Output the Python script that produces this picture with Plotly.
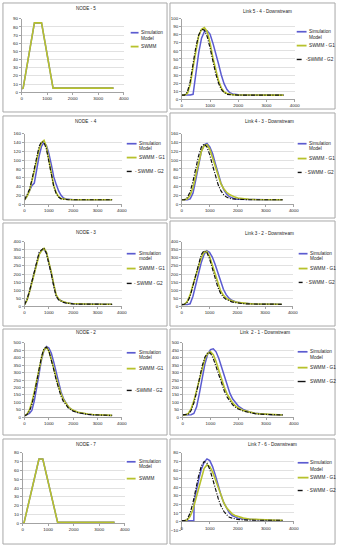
import plotly.graph_objects as go

W, H = 342, 550

# ---------------- data ----------------
T = [0, 100, 200, 300, 400, 500, 600, 700, 800, 900, 1000, 1100, 1200, 1300, 1400, 1500,
     1600, 1700, 1800, 1900, 2000, 2200, 2400, 2600, 2800, 3000, 3200, 3400, 3600]

node5_t = [0, 60, 500, 780, 1230, 3600]
node5_sim = [4, 5, 85, 85, 5, 5]
node5_swmm = [4, 5, 85, 85, 5, 5]

link54_sim = [5, 5, 5, 5, 6, 32, 58, 76, 84, 85, 81, 70, 58, 44, 30, 19, 12, 8, 6.5, 5.8, 5.5, 5.2, 5, 5, 5, 5, 5, 5, 5]
link54_g1 = [5, 5, 7, 18, 40, 62, 79, 87, 89, 84, 70, 52, 36, 23, 14, 9, 7, 6, 5.5, 5.3, 5.2, 5, 5, 5, 5, 5, 5, 5, 5]
link54_g2 = [5, 5, 9, 22, 44, 65, 80, 87, 86, 78, 64, 47, 32, 20, 12, 8, 6, 5.5, 5.2, 5, 5, 5, 5, 5, 5, 5, 5, 5, 5]

node4_sim = [10, 18, 30, 42, 48, 80, 110, 132, 140, 133, 115, 90, 62, 45, 30, 20, 14, 12, 11, 10.5, 10, 10, 10, 10, 10, 10, 10, 10, 10]
node4_g1 = [10, 18, 30, 50, 75, 100, 125, 140, 145, 130, 102, 70, 42, 26, 17, 13, 11.5, 11, 10.5, 10, 10, 10, 10, 10, 10, 10, 10, 10, 10]
node4_g2 = [10, 20, 33, 55, 82, 110, 132, 142, 140, 125, 97, 65, 40, 24, 16, 12, 11, 10.5, 10, 10, 10, 10, 10, 10, 10, 10, 10, 10, 10]

link43_sim = [10, 10, 10, 12, 25, 55, 90, 120, 135, 138, 130, 115, 92, 68, 48, 33, 23, 17, 14, 12, 11, 10.5, 10, 10, 10, 10, 10, 10, 10]
link43_g1 = [10, 10, 12, 20, 38, 65, 95, 120, 133, 135, 125, 105, 82, 62, 46, 35, 27, 22, 18, 16, 14, 12, 11, 10.5, 10, 10, 10, 10, 10]
link43_g2 = [10, 10, 15, 28, 52, 82, 110, 130, 137, 130, 112, 88, 64, 44, 30, 21, 16, 13, 12, 11.5, 11, 10.5, 10, 10, 10, 10, 10, 10, 10]

node3_sim = [10, 40, 90, 150, 210, 270, 325, 345, 355, 330, 275, 205, 130, 65, 42, 32, 26, 21, 18, 16, 15, 14, 13, 12.5, 12, 12, 12, 12, 12]
node3_g1 = [10, 38, 88, 148, 208, 268, 320, 345, 360, 335, 280, 210, 135, 70, 45, 33, 27, 22, 19, 17, 16, 14, 13, 12.5, 12, 12, 12, 12, 12]
node3_g2 = [10, 42, 92, 152, 212, 272, 335, 350, 362, 328, 270, 200, 125, 62, 40, 30, 24, 20, 17, 15, 14, 13, 12.5, 12, 12, 12, 12, 12, 12]

link32_sim = [10, 10, 10, 15, 60, 130, 200, 270, 320, 345, 335, 305, 260, 205, 150, 105, 72, 50, 37, 29, 24, 18, 15, 13, 12, 12, 12, 12, 12]
link32_g1 = [10, 12, 30, 70, 130, 190, 250, 300, 335, 340, 310, 255, 190, 135, 95, 68, 50, 40, 33, 28, 24, 19, 16, 14, 13, 12, 12, 12, 12]
link32_g2 = [10, 12, 25, 60, 125, 195, 265, 320, 345, 335, 295, 235, 170, 118, 80, 56, 42, 33, 27, 23, 20, 16, 14, 13, 12, 12, 12, 12, 12]

node2_sim = [10, 15, 25, 45, 110, 200, 300, 390, 450, 475, 465, 430, 370, 300, 230, 170, 125, 92, 70, 55, 45, 32, 25, 20, 17, 15, 13, 12, 12]
node2_g1 = [10, 20, 50, 100, 170, 250, 330, 400, 455, 470, 445, 395, 330, 265, 205, 155, 118, 90, 70, 56, 46, 33, 26, 21, 18, 16, 14, 13, 12]
node2_g2 = [10, 18, 40, 85, 155, 240, 330, 410, 462, 472, 445, 390, 320, 250, 190, 140, 105, 80, 62, 50, 41, 30, 23, 19, 16, 14, 13, 12, 12]

link21_sim = [15, 15, 15, 17, 25, 70, 160, 270, 360, 425, 455, 460, 440, 395, 335, 270, 210, 160, 122, 95, 75, 50, 35, 27, 22, 19, 17, 16, 15]
link21_g1 = [15, 15, 25, 55, 110, 180, 260, 335, 395, 430, 440, 420, 375, 315, 255, 200, 155, 120, 95, 76, 62, 44, 33, 26, 22, 19, 17, 16, 15]
link21_g2 = [15, 15, 20, 45, 95, 170, 260, 345, 405, 435, 430, 395, 340, 280, 222, 175, 135, 105, 83, 67, 55, 40, 30, 24, 20, 18, 16, 15, 15]

node7_t = [0, 60, 640, 790, 1370, 3600]
node7_sim = [0, 1, 73, 73, 1, 1]
node7_swmm = [0, 1, 73, 73, 1, 1]

link76_sim_t = [0, 100, 200, 300, 400, 430, 440, 500, 600, 700, 800, 900, 1000, 1100, 1200, 1300, 1400,
                1500, 1600, 1700, 1800, 1900, 2000, 2200, 2400, 2600, 2800, 3000, 3200, 3400, 3600]
link76_sim = [1, 1, 1, 1, 1, 1, 20, 33, 48, 61, 69, 73, 71, 64, 54, 42, 31, 22, 15, 10, 7, 5, 4, 3, 2.5, 2, 1.8, 1.5, 1.3, 1.2, 1]
link76_g1 = [1, 1, 2, 6, 14, 26, 40, 53, 62, 66, 64, 58, 49, 39, 30, 22, 16, 12, 9, 7, 6, 4, 3, 2.5, 2, 2, 1.8, 1.5, 1.5]
link76_g2 = [1, 1, 3, 10, 22, 38, 53, 65, 70, 68, 61, 50, 38, 27, 18, 12, 8, 5, 4, 3, 2.5, 2, 1.5, 1.5, 1.5, 1.5, 1.5, 1.5, 1.5]

titles = ["NODE - 5", "Link 5 - 4 - Downstream", "NODE  - 4", "Link 4 - 3 - Downstream",
          "NODE - 3", "Link 3 - 2 - Downstream", "NODE - 2", "Link  2 - 1 - Downstream",
          "NODE - 7", "Link 7 - 6 - Downstream"]
y_ranges = [[0, 90], [0, 100], [0, 160], [0, 160], [0, 400], [0, 400], [0, 500], [0, 500], [0, 80], [-10, 80]]
y_steps = [10, 10, 20, 20, 50, 50, 50, 50, 10, 10]
x_range = [0, 4000]
x_step = 1000

series = [
    [(node5_t, node5_sim, "sim"), (node5_t, node5_swmm, "g1")],
    [(T, link54_sim, "sim"), (T, link54_g1, "g1"), (T, link54_g2, "g2")],
    [(T, node4_sim, "sim"), (T, node4_g1, "g1"), (T, node4_g2, "g2")],
    [(T, link43_sim, "sim"), (T, link43_g1, "g1"), (T, link43_g2, "g2")],
    [(T, node3_sim, "sim"), (T, node3_g1, "g1"), (T, node3_g2, "g2")],
    [(T, link32_sim, "sim"), (T, link32_g1, "g1"), (T, link32_g2, "g2")],
    [(T, node2_sim, "sim"), (T, node2_g1, "g1"), (T, node2_g2, "g2")],
    [(T, link21_sim, "sim"), (T, link21_g1, "g1"), (T, link21_g2, "g2")],
    [(node7_t, node7_sim, "sim"), (node7_t, node7_swmm, "g1")],
    [(link76_sim_t, link76_sim, "sim"), (T, link76_g1, "g1"), (T, link76_g2, "g2")],
]

legend_texts = [
    [("Simulation", "Model", "sim"), ("SWMM", None, "g1")],
    [("Simulation", "Model", "sim"), ("SWMM - G1", None, "g1"), ("-SWMM - G2", None, "g2")],
    [("Simulation", "Model", "sim"), ("SWMM - G1", None, "g1"), ("- SWMM - G2", None, "g2")],
    [("Simulation", "Model", "sim"), ("SWMM - G1", None, "g1"), ("- SWMM - G2", None, "g2")],
    [("Simulation", "model", "sim"), ("SWMM - G1", None, "g1"), ("- SWMM - G2", None, "g2")],
    [("Simulation", "Model", "sim"), ("SWMM - G1", None, "g1"), ("- SWMM - G2", None, "g2")],
    [("Simulation", "Model", "sim"), ("SWMM -G1", None, "g1"), ("-SWMM - G2", None, "g2")],
    [("Simulation", "Model", "sim"), ("SWMM - G1", None, "g1"), ("SWMM - G2", None, "g2")],
    [("Simulation", "Model", "sim"), ("SWMM", None, "g1")],
    [("Simulation", "Model", "sim"), ("SWMM - G1", None, "g1"), ("- SWMM - G2", None, "g2")],
]

# ---------------- layout (pixels) ----------------
plot_boxes = [  # x0, x1, ytop, ybottom
    (21, 125, 17, 91), (184, 299, 17, 98),
    (24, 123, 133, 204), (184, 298, 133, 204),
    (24, 123, 242, 307), (184, 297, 242, 307),
    (24, 123, 344, 419), (185, 298, 344, 419),
    (22, 126, 455, 526), (184, 298, 455, 533),
]
title_pos = [(87, 7), (271, 10), (87, 121), (273, 121), (87, 233), (273, 234),
             (87, 334), (269, 334), (87, 447), (276, 447)]
panel_frames = [
    (2, 169, 1, 111), (172, 340, 1, 108),
    (2, 169, 115, 220), (172, 340, 112, 218),
    (2, 169, 223, 327), (172, 340, 221, 327),
    (2, 169, 330, 437), (172, 340, 330, 437),
    (2, 169, 441, 547), (172, 340, 441, 547),
]
# sample x0, x1, text x, g2 sample x1, g2 text x, rows (sample y, [text line ys])
legend_geo = [
    (132, 140, 141, None, None, [(31, [31, 37]), (45, [45])]),
    (301, 311, 312, 306, 309, [(30, [30, 35.5]), (44, [44]), (58, [58])]),
    (128, 138, 139, 133, 135, [(143, [143, 148]), (157, [157]), (171, [171])]),
    (302, 311, 312, 306, 308, [(143, [143, 148]), (158, [158]), (172, [172])]),
    (128, 137, 139, 133, 134, [(254, [254, 259]), (269, [269]), (284, [284])]),
    (303, 312, 313, 307, 309, [(254, [254, 259]), (269, [269]), (283, [283])]),
    (128, 137, 139, 133, 135, [(354, [354, 359]), (370, [370]), (392, [392])]),
    (302, 312, 313, 310, 313, [(353, [353, 359]), (369, [369]), (383, [383])]),
    (128, 137, 139, None, None, [(464, [464, 469]), (481, [481])]),
    (302, 313, 314, 307, 310, [(465, [465, 472]), (480, [480]), (493, [493])]),
]

styles = {
    "sim": dict(color="#5b5bd0", width=1.5, dash="solid"),
    "g1": dict(color="#b7c22c", width=1.6, dash="solid"),
    "g2": dict(color="#111111", width=1.2, dash="4px,1.5px,1px,1.5px"),
}
names = {"sim": "Simulation Model", "g1": "SWMM - G1", "g2": "SWMM - G2"}

FONT = "Liberation Sans"
AXC = "#8c8c8c"
TICK_SIZE = 4.4
TITLE_SIZE = 4.6
LEG_SIZE = 4.7


def fx(px):
    return px / W


def fy(py):
    return 1 - py / H


fig = go.Figure()
layout = dict(width=W, height=H, margin=dict(l=0, r=0, t=0, b=0),
              paper_bgcolor="white", plot_bgcolor="white", showlegend=False,
              font=dict(family=FONT, size=5, color="#222"))
shapes = []
annotations = []

for i in range(10):
    n = i + 1
    xs = "" if n == 1 else str(n)
    x0, x1, yt, yb = plot_boxes[i]
    for (tx, vy, kind) in series[i]:
        st = styles[kind]
        fig.add_trace(go.Scatter(x=tx, y=vy, mode="lines", name=names[kind],
                                 line=dict(color=st["color"], width=st["width"], dash=st["dash"]),
                                 xaxis="x" + xs, yaxis="y" + xs, hoverinfo="skip"))
    yr = y_ranges[i]
    ydom = [fy(yb), fy(yt)]
    xa = dict(domain=[fx(x0), fx(x1)], range=x_range, dtick=x_step, tick0=0,
              showgrid=False, zeroline=False, showline=True, linecolor=AXC, linewidth=0.8,
              ticks="outside", ticklen=2, tickwidth=0.8, tickcolor=AXC,
              tickfont=dict(size=TICK_SIZE, family=FONT, color="#222"), fixedrange=True)
    if yr[0] < 0:
        frac = (0 - yr[0]) / (yr[1] - yr[0])
        xa.update(anchor="free", position=ydom[0] + frac * (ydom[1] - ydom[0]))
    else:
        xa.update(anchor="y" + xs)
    ya = dict(domain=ydom, range=yr, dtick=y_steps[i], tick0=0, anchor="x" + xs,
              showgrid=True, gridcolor="#d4d4d4", gridwidth=0.7, zeroline=False,
              showline=True, linecolor=AXC, linewidth=0.8,
              ticks="outside", ticklen=2, tickwidth=0.8, tickcolor=AXC,
              tickfont=dict(size=TICK_SIZE, family=FONT, color="#222"), fixedrange=True)
    layout["xaxis" + xs] = xa
    layout["yaxis" + xs] = ya

    fx0, fx1, fyt, fyb = panel_frames[i]
    shapes.append(dict(type="rect", xref="paper", yref="paper",
                       x0=fx(fx0), x1=fx(fx1), y0=fy(fyb), y1=fy(fyt),
                       line=dict(color="#a8a8a8", width=1)))
    tx_, ty_ = title_pos[i]
    annotations.append(dict(text=titles[i], x=fx(tx_), y=fy(ty_), xref="paper", yref="paper",
                            xanchor="center", yanchor="middle", showarrow=False,
                            font=dict(size=TITLE_SIZE, family=FONT, color="#222")))
    sx0, sx1, txp, g2x1, g2tx, rows = legend_geo[i]
    for (l1, l2, kind), (sy, lys) in zip(legend_texts[i], rows):
        st = styles[kind]
        ex1, tstart = sx1, txp
        if kind == "g2":
            ex1, tstart = g2x1, g2tx
        shapes.append(dict(type="line", xref="paper", yref="paper",
                           x0=fx(sx0), x1=fx(ex1), y0=fy(sy), y1=fy(sy),
                           line=dict(color=st["color"], width=st["width"] + 0.2)))
        for txt, ly in zip([l1, l2], lys):
            if txt is None:
                continue
            annotations.append(dict(text=txt, x=fx(tstart), y=fy(ly), xref="paper", yref="paper",
                                    xanchor="left", yanchor="middle", showarrow=False, borderpad=0,
                                    font=dict(size=LEG_SIZE, family=FONT, color="#222")))

layout["shapes"] = shapes
layout["annotations"] = annotations
fig.update_layout(**layout)
fig.write_html("out.html",
               config={"displayModeBar": False, "staticPlot": True},
               post_script="document.body.style.margin='0';document.body.style.overflow='hidden';")
